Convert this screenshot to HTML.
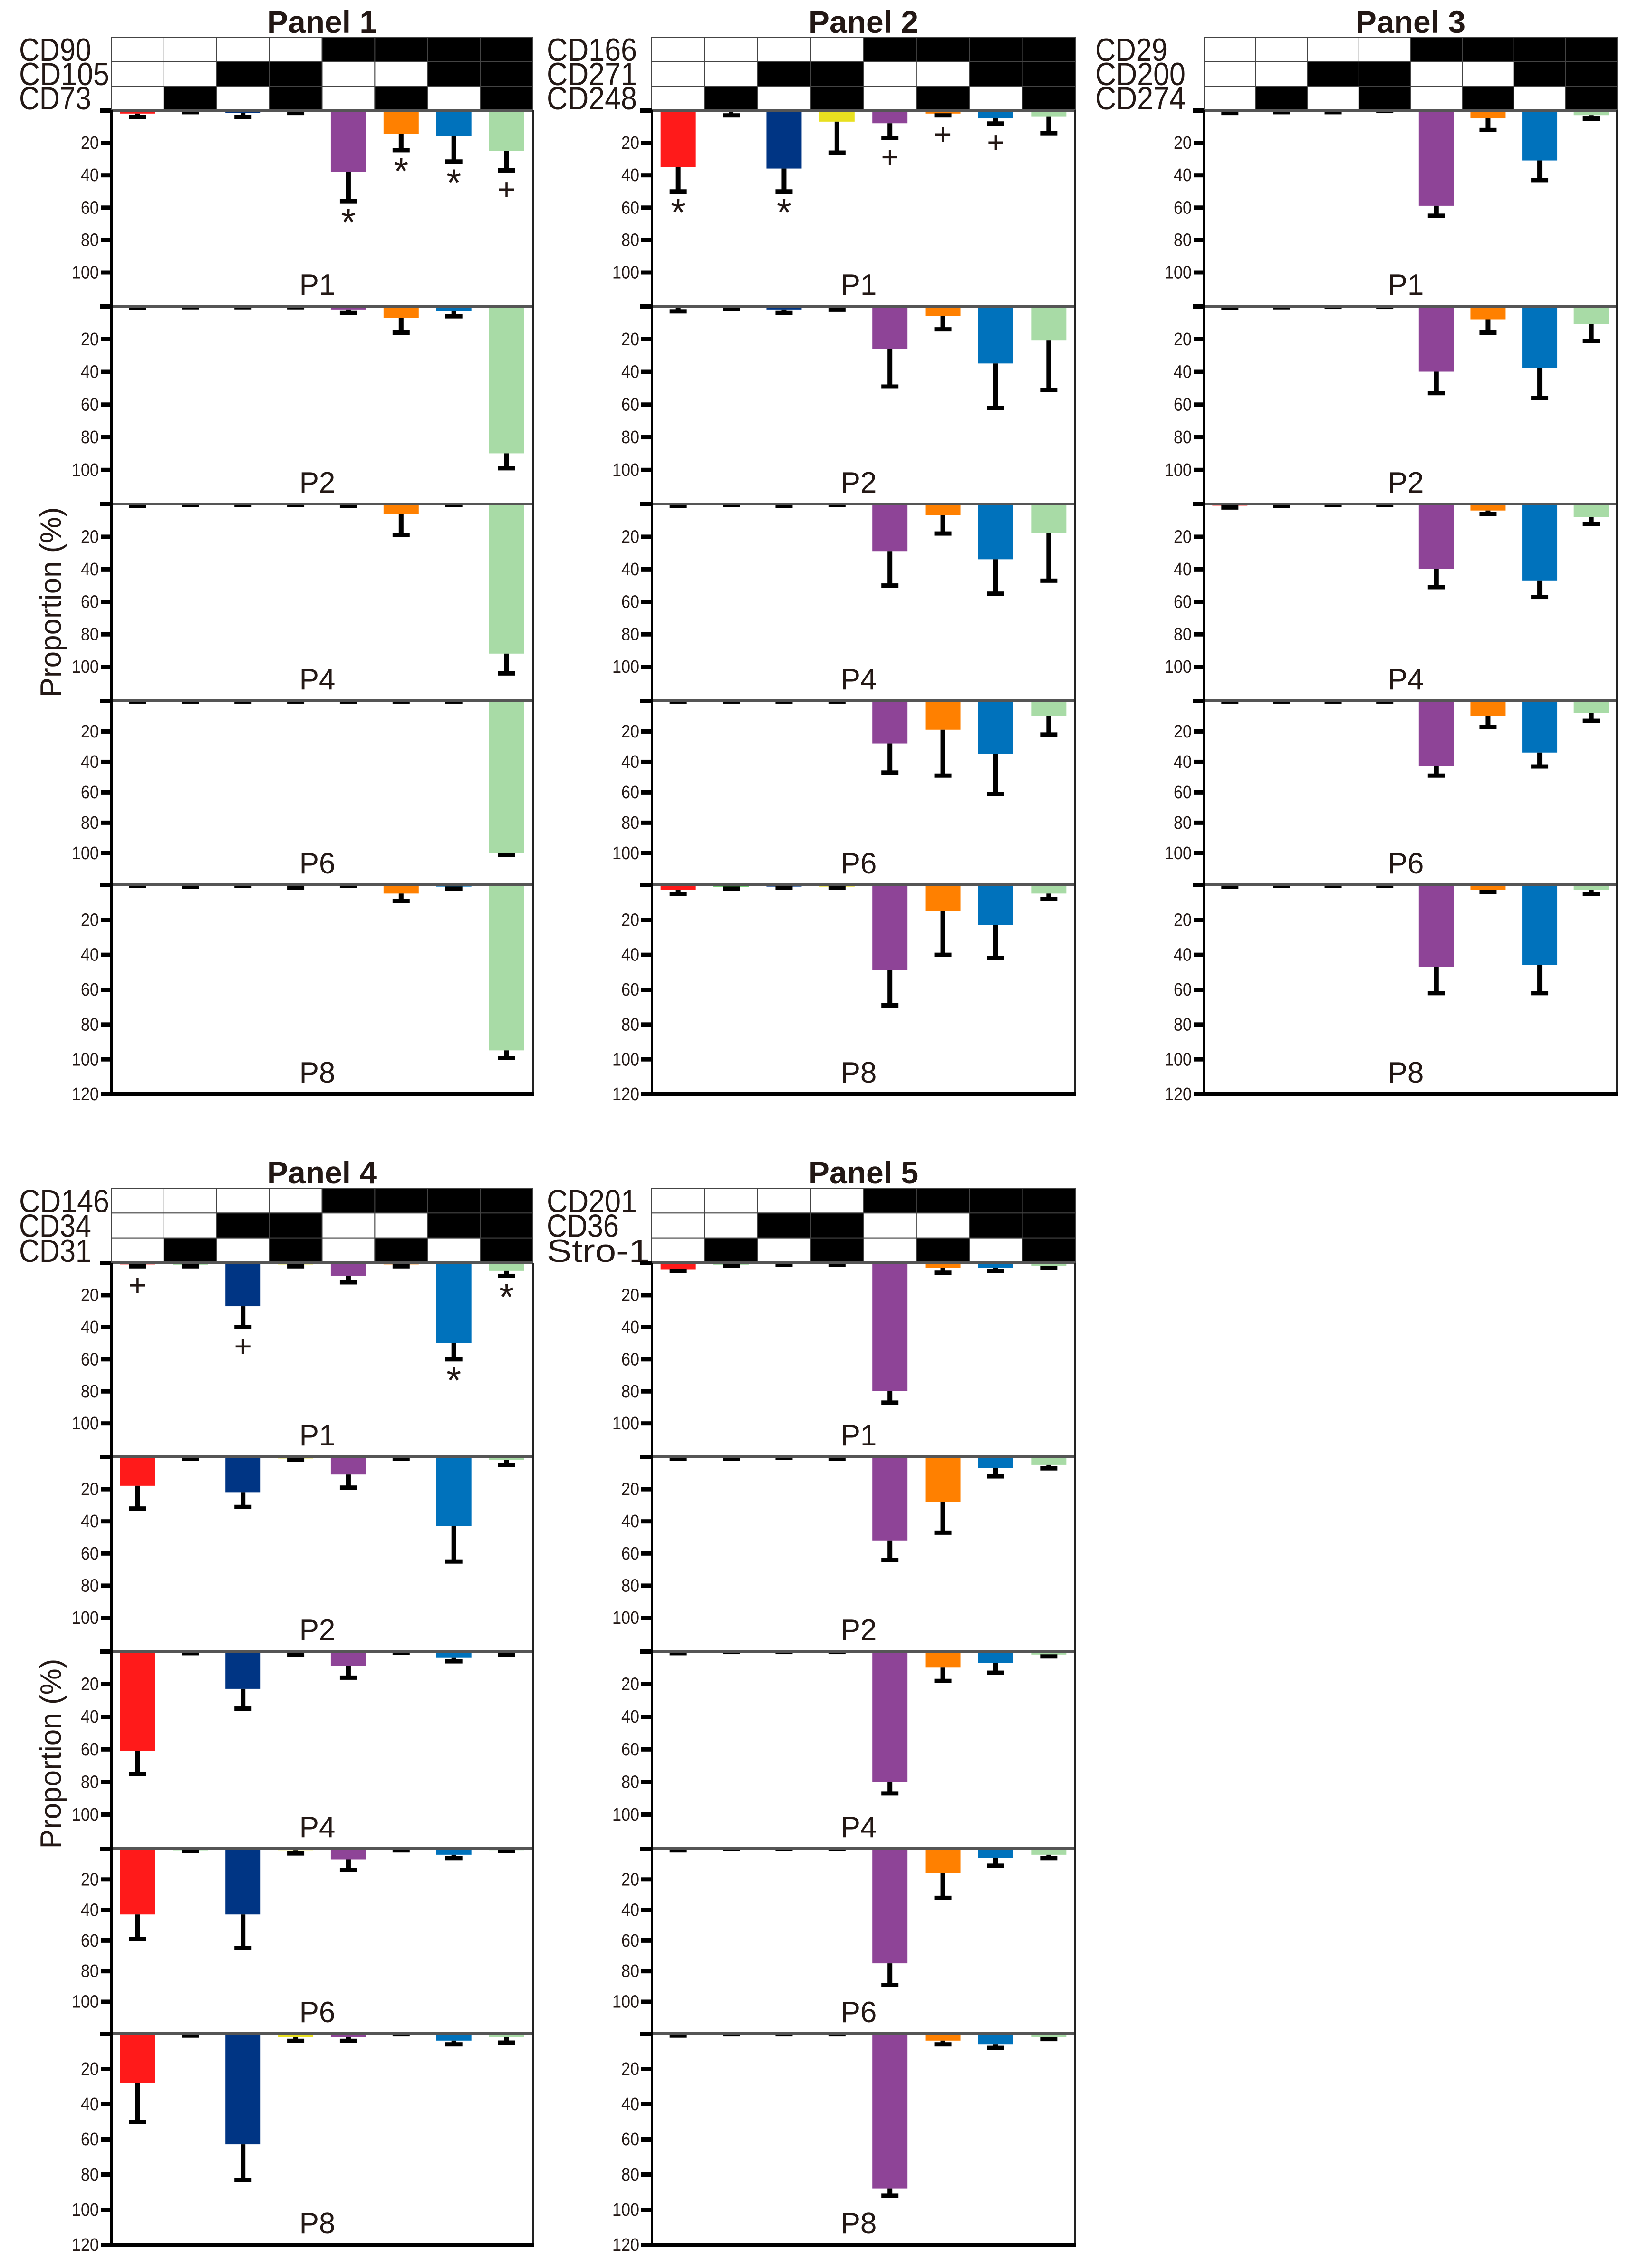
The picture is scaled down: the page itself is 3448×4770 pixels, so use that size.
<!DOCTYPE html>
<html><head><meta charset="utf-8"><style>
html,body{margin:0;padding:0;background:#fff;}
svg{display:block;}
text{font-family:"Liberation Sans",sans-serif;fill:#231815;}
</style></head><body>
<svg id="chart" width="3448" height="4770" viewBox="0 0 3448 4770" xmlns="http://www.w3.org/2000/svg"></svg>
<script>
// ---- data (proportion %, bars grow downward) ----
const passages = ["P1","P2","P4","P6","P8"];
const panelTitles = ["Panel 1","Panel 2","Panel 3","Panel 4","Panel 5"];
const markerNames1 = ["CD90","CD105","CD73"];
const markerNames2 = ["CD166","CD271","CD248"];
const markerNames3 = ["CD29","CD200","CD274"];
const markerNames4 = ["CD146","CD34","CD31"];
const markerNames5 = ["CD201","CD36","Stro-1"];
const ticksMid = [20,40,60,80,100];
const ticksLast = [20,40,60,80,100,120];

const panel1Means = [[2,0.5,1.5,0.5,38,14.5,16,25],[0.5,0.3,0.3,0.3,2,7,3,90],[0.3,0.3,0.3,0.3,0.5,6,0.3,92],[0.2,0.2,0.2,0.2,0.2,0.2,0.2,100],[0.3,0.5,0.3,0.5,0.3,5,1,95]];
const panel1Errs  = [[4,1,4,1.5,56,24.5,31.5,37],[1,0.5,0.5,0.5,4,16,6,99],[1,0.5,0.5,0.5,1,19,0.5,104],[0.3,0.3,0.3,0.3,0.3,0.3,0.3,101],[0.5,1,0.5,1.5,0.5,9,2,99]];
const panel2Means = [[35,1,36,7,8,2,5,4],[1,0.5,2,1,26,6,35,21],[0.5,0.3,0.5,0.3,29,7,34,18],[0.2,0.2,0.2,0.2,28,19,35,10],[3,1,1,1,49,15,23,5]];
const panel2Errs  = [[50,3,50,26,17,3,8,14],[3,1.5,4,2,49,14,62,51],[1,0.5,1,0.5,50,18,55,47],[0.3,0.3,0.3,0.3,47,49,61,22],[5,2,1.5,1.5,69,40,42,8]];
const panel3Means = [[0.5,0.5,0.2,0.2,59,5,31,3],[0.5,0.3,0.2,0.2,40,8,38,11],[1,0.5,0.2,0.2,40,4,47,8],[0.2,0.2,0.2,0.2,43,10,34,8],[0.5,0.2,0.2,0.2,47,3,46,3]];
const panel3Errs  = [[1.5,1,1,0.3,65,12,43,5],[1,0.5,0.3,0.3,53,16,56,21],[2,1,0.3,0.3,51,6,57,12],[0.3,0.3,0.3,0.3,49,17,43,13],[1,0.3,0.3,0.3,62,4,62,5]];
const panel4Means = [[1,1,27,1,8,1,50,5],[18,0.5,22,1,11,0.5,43,2],[61,0.5,23,1,9,0.5,4,1],[43,1,43,1,7,0.5,4,1],[28,0.5,63,2,2,0.2,4,2]];
const panel4Errs  = [[2,2,40,2,12,2,60,8],[32,1,31,1.5,19,1,65,5],[75,1,35,2,16,0.8,6,2],[59,1.5,65,3,14,1,6,1.5],[50,1,83,4,4,0.3,6,5]];
const panel5Means = [[4,1,0.5,0.5,80,3,3,2],[0.5,0.5,0.2,0.5,52,28,7,5],[0.5,0.2,0.2,0.2,80,10,7,2],[0.5,0.2,0.2,0.2,75,16,6,4],[0.5,0.2,0.2,0.2,88,4,6,2]];
const panel5Errs  = [[5,1.5,1,1,87,6,5,3],[1,1,0.3,1,64,47,12,7],[1,0.3,0.3,0.3,87,18,13,3],[1,0.3,0.3,0.3,89,32,11,6],[1,0.3,0.3,0.3,92,6,8,3]];
const panel1Sig = ["","","","","*","*","*","+"];
const panel2Sig = ["*","","*","","+","+","+",""];
const panel4Sig = ["+","","+","","","","*","*"];

// ---- layout ----
const barColors = ["#ff1a1a","#2eb82e","#003584","#e8e020","#8e4497","#ff8000","#0072bc","#a8dba6"];
const cols = [[234,1121],[1371,2262],[2533,3402]];
const labelLeft = [40,1150,2304];
const rowTop = [{hdr:79,base:[232,644,1060,1474,1861],bottom:2301},{hdr:2499,base:[2656,3064,3473,3888,4277],bottom:4721}];
const panelDefs = [
 {t:0,c:0,r:0,names:markerNames1,m:panel1Means,e:panel1Errs,sig:panel1Sig,ylab:true},
 {t:1,c:1,r:0,names:markerNames2,m:panel2Means,e:panel2Errs,sig:panel2Sig},
 {t:2,c:2,r:0,names:markerNames3,m:panel3Means,e:panel3Errs,sig:null},
 {t:3,c:0,r:1,names:markerNames4,m:panel4Means,e:panel4Errs,sig:panel4Sig,ylab:true},
 {t:4,c:1,r:1,names:markerNames5,m:panel5Means,e:panel5Errs,sig:null}
];
const pattern = [[0,0,0,0,1,1,1,1],[0,0,1,1,0,0,1,1],[0,1,0,1,0,1,0,1]];
const NS="http://www.w3.org/2000/svg";
const svg=document.getElementById('chart');
function mk(tag,attrs,parent){const el=document.createElementNS(NS,tag);for(const k in attrs)el.setAttribute(k,attrs[k]);(parent||svg).appendChild(el);return el;}

panelDefs.forEach((p,pi)=>{
  const [x0,x1]=cols[p.c]; const L=rowTop[p.r];
  const g=mk('g',{});
  
  
  const cw=(x1-x0)/8;
  const title=mk('text',{x:(x0+x1)/2,y:L.hdr-10,'text-anchor':'middle','font-size':66,'font-weight':'bold'},g);
  title.textContent=panelTitles[p.t];
  
  
  const rh=(L.base[0]-L.hdr)/3;
  for(let r=0;r<3;r++){
    const nm=p.names[r];
    const lab=mk('text',{x:labelLeft[p.c],y:L.hdr+rh*(r+1)-2,'font-size':68,textLength:Math.min(x0-4-labelLeft[p.c],nm.length*38),lengthAdjust:'spacingAndGlyphs'},g);
    lab.textContent=nm;
    
    
    for(let c=0;c<8;c++){
      const cell=mk('rect',{x:x0+c*cw,y:L.hdr+r*rh,width:cw,height:rh,fill:pattern[r][c]?'#000':'#fff',stroke:'#444','stroke-width':2},g);
      
      
    }
  }
  for(let s=0;s<5;s++){
    const top=L.base[s]; const bot=s<4?L.base[s+1]:L.bottom;
    const units=s<4?121:120;
    const sc=(bot-top)/units;
    const yOf=v=>top+v*sc;
    const sg=mk('g',{},g);
    
    
    const tk=s<4?ticksMid:ticksLast;
    const z=mk('rect',{x:x0-24,y:top-4,width:24,height:9,fill:'#000'},sg);
    
    
    tk.forEach(v=>{
      const t=mk('rect',{x:x0-22,y:yOf(v)-4,width:22,height:9,fill:'#000'},sg);
      
      
      const tl=mk('text',{x:x0-26,y:yOf(v)+13,'text-anchor':'end','font-size':38,textLength:String(v).length*19,lengthAdjust:'spacingAndGlyphs'},sg);
      tl.textContent=v;
      
      
    });
    for(let c=0;c<8;c++){
      const cx=x0+cw*(c+0.5);
      const mv=p.m[s][c], ev=p.e[s][c];
      const b=mk('rect',{x:cx-37,y:top,width:74,height:Math.max(0,mv*sc),fill:barColors[c]},sg);
      
      
      const ey=yOf(ev);
      if(ev>mv){
        const st=mk('rect',{x:cx-5,y:yOf(mv),width:10,height:ey-yOf(mv),fill:'#000'},sg);
        
        
      }
      const cap=mk('rect',{x:cx-18,y:ey-4,width:36,height:9,fill:'#000'},sg);
      
      
      if(s===0&&p.sig&&p.sig[c]){
        const mt=mk('text',{x:cx,y:ey+(p.sig[c]==='*'?72:62),'text-anchor':'middle','font-size':p.sig[c]==='*'?80:64,fill:'#000'},sg);
        mt.textContent=p.sig[c];
        
        
      }
    }
    const bl=mk('rect',{x:x0,y:top-3,width:x1-x0,height:6,fill:'#555'},sg);
    
    
    const pl=mk('text',{x:(x0+x1)/2-10,y:bot-24,'text-anchor':'middle','font-size':62},sg);
    pl.textContent=passages[s];
    
    
  }
  const ax=mk('rect',{x:x0-2,y:L.base[0],width:5,height:L.bottom-L.base[0],fill:'#000'},g);
  
  
  const rx=mk('rect',{x:x1-2,y:L.base[0],width:4,height:L.bottom-L.base[0],fill:'#222'},g);
  
  
  const bx=mk('rect',{x:x0-6,y:L.bottom-4,width:x1-x0+8,height:9,fill:'#000'},g);
  
  
  if(p.ylab){
    const yc=(L.base[0]+L.bottom)/2;
    const yt=mk('text',{x:0,y:0,'text-anchor':'middle','font-size':62,transform:'translate(128,'+yc+') rotate(-90)'},g);
    yt.textContent='Proportion (%)';
    
    
  }
});
</script>
</body></html>
